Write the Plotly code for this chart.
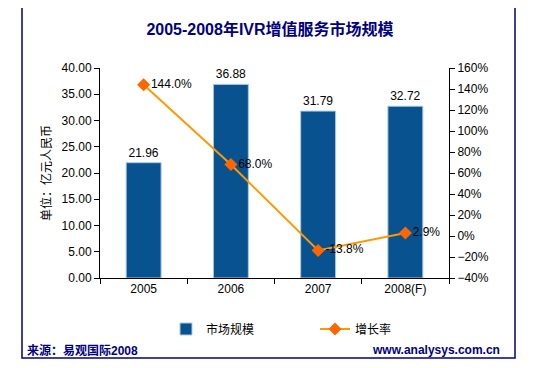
import plotly.graph_objects as go

years = ["2005", "2006", "2007", "2008(F)"]
market_size = [21.96, 36.88, 31.79, 32.72]
growth_rate = [1.44, 0.68, -0.138, 0.029]
growth_labels = ["144.0%", "68.0%", "-13.8%", "2.9%"]

FONT = "Liberation Sans, Arial, Noto Sans CJK SC, sans-serif"
NAVY = "#000080"

# the page is shown with an 8px body offset; compensate
OFF = 8
L, R, T, B = 100 - OFF, 544 - 449 + OFF, 68 - OFF, 368 - 278 + OFF
PW, PH = 544 - L - R, 368 - T - B


def px_x(x):  # target page x -> paper coordinate
    return (x - OFF - L) / PW


def px_y(y):  # target page y -> paper coordinate
    return (368 - B - (y - OFF)) / PH


fig = go.Figure()
fig.add_trace(go.Bar(
    x=years, y=market_size, name="市场规模",
    marker=dict(color="#08528F", line=dict(color="#A9C6E3", width=1)),
    text=[f"{v:.2f}" for v in market_size], textposition="outside",
    textfont=dict(size=12, color="black"), cliponaxis=False,
    yaxis="y",
))
fig.add_trace(go.Scatter(
    x=years, y=growth_rate, name="增长率", mode="lines+markers+text",
    line=dict(color="#FF9900", width=2),
    marker=dict(symbol="diamond", size=10, color="#FF6600"),
    text=growth_labels, textposition="middle right",
    textfont=dict(size=12, color="black"), cliponaxis=False,
    yaxis="y2",
))

fig.update_layout(
    width=544, height=368,
    margin=dict(l=L, r=R, t=T, b=B),
    paper_bgcolor="white", plot_bgcolor="white",
    font=dict(family=FONT, size=12, color="black"),
    title=dict(text="<b>2005-2008年IVR增值服务市场规模</b>",
               x=(270 - OFF) / 544, xanchor="center", xref="container",
               y=1 - (29 - OFF) / 368, yanchor="middle", yref="container",
               font=dict(size=16, color=NAVY, family=FONT)),
    bargap=0.6,
    showlegend=True,
    legend=dict(orientation="h", x=px_x(166), y=px_y(329), xanchor="left", yanchor="middle",
                font=dict(size=12, color="black"), entrywidth=104, entrywidthmode="pixels",
                bgcolor="rgba(0,0,0,0)"),
    xaxis=dict(type="category", range=[-0.5, 3.5], showline=True, linecolor="black",
               linewidth=1, ticks="outside", tickson="boundaries", ticklen=5,
               tickcolor="black", showgrid=False, tickfont=dict(size=12), automargin=False),
    yaxis=dict(range=[0, 40], dtick=5, tickformat=".2f", showline=True, linecolor="black",
               ticks="outside", ticklen=5, tickcolor="black", showgrid=False, zeroline=False,
               tickfont=dict(size=12), automargin=False,
               title=dict(text="单位：亿元人民币", font=dict(size=12), standoff=7)),
    yaxis2=dict(range=[-0.4, 1.6], dtick=0.2, tickformat=".0%", overlaying="y", side="right",
                showline=True, linecolor="black", ticks="outside", ticklen=5, tickcolor="black",
                showgrid=False, zeroline=False, tickfont=dict(size=12), automargin=False),
)

# outer frame
fig.add_shape(type="rect", xref="paper", yref="paper",
              x0=px_x(22), x1=px_x(515), y0=px_y(358), y1=px_y(7),
              line=dict(color=NAVY, width=1.5), layer="below")

fig.add_annotation(text="<b>来源：易观国际2008</b>", xref="paper", yref="paper",
                   x=px_x(25), y=px_y(350), xanchor="left", yanchor="middle",
                   showarrow=False, font=dict(size=12, color=NAVY, family=FONT))
fig.add_annotation(text="<b>www.analysys.com.cn</b>", xref="paper", yref="paper",
                   x=px_x(502), y=px_y(350), xanchor="right", yanchor="middle",
                   showarrow=False, font=dict(size=12, color=NAVY, family=FONT))

fig.write_html("out.html")
